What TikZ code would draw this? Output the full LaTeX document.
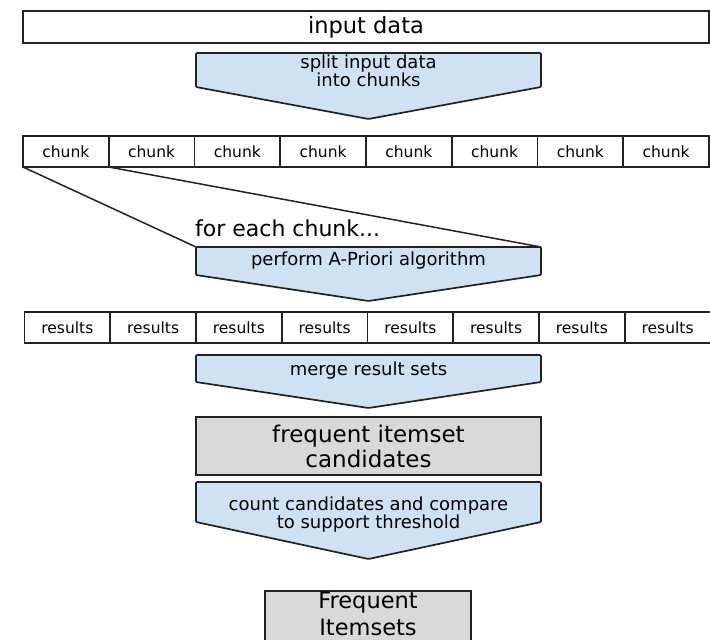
\documentclass[tikz,border=0pt]{standalone}
\usepackage{fontspec}
\setmainfont{DejaVu Sans}
\definecolor{stageblue}{HTML}{CFE2F3}
\definecolor{setgray}{HTML}{D9D9D9}
\definecolor{edge}{HTML}{222222}

% A down-pointing stage arrow between x=196 and x=541:
% #1 name, #2 top y, #3 y where the sides end, #4 tip y, #5 label y, #6 label
\newcommand\stagearrow[6]{%
  \draw[stage] (196,#2) -- (541,#2) -- (541,#3) -- (368.5,#4) -- (196,#3) -- cycle;
  \coordinate (#1-nw) at (196,#2);
  \coordinate (#1-ne) at (541,#2);
  \node[stagetext] (#1) at (368.5,#5) {#6};
}

\begin{document}
\begin{tikzpicture}[x=1pt,y=-1pt,
  stage/.style={draw=edge, line width=1.7pt, fill=stageblue, line join=round, rounded corners=1pt},
  stagetext/.style={align=center, inner sep=0pt, font=\fontsize{18}{18}\selectfont},
  box/.style={draw=edge, line width=1.7pt, inner sep=0pt, outer sep=0pt, anchor=north west},
  cell/.style={box, fill=white, minimum width=85.75pt, minimum height=31pt, font=\fontsize{15.5}{16}\selectfont},
  setbox/.style={box, fill=setgray},
  plain/.style={inner sep=0pt, align=center}]
\useasboundingbox (0,0) rectangle (710,640);

% input
\node[box, fill=white, minimum width=686pt, minimum height=32pt,
      font=\fontsize{22.5}{24}\selectfont] (input) at (23,11) {input data};

\stagearrow{split}{53}{87}{119}{71}{split input data\\into chunks}

% chunks
\foreach \i in {1,...,8}
  \node[cell] (chunk\i) at ({23+(\i-1)*85.75},136) {chunk};

% fan-out of one chunk to the per-chunk step
\coordinate (fanL) at (196,247);
\coordinate (fanR) at (541,247);
\draw[edge, line width=1.5pt] (chunk1.south west) -- (fanL);
\draw[edge, line width=1.5pt] (chunk1.south east) -- (fanR);

\node[plain, anchor=base west, font=\fontsize{22}{24}\selectfont] (foreach) at (195,236) {for each chunk...};

\stagearrow{perform}{247}{275}{301}{261}{perform A-Priori algorithm}

% results
\foreach \i in {1,...,8}
  \node[cell] (result\i) at ({24.5+(\i-1)*85.75},312) {results};

\stagearrow{merge}{355}{382}{408}{371}{merge result sets}

\node[setbox, minimum width=345pt, minimum height=58pt,
      font=\fontsize{23}{25}\selectfont, align=center] (cand) at (196,417)
      {frequent itemset\\candidates};

\stagearrow{count}{482}{522}{559}{515}{count candidates and compare\\to support threshold}

\node[setbox, minimum width=206pt, minimum height=75pt] (freq) at (265,591) {};
\node[plain, font=\fontsize{22.5}{27}\selectfont] (freqtext) at (368,614) {Frequent\\Itemsets};
\end{tikzpicture}
\end{document}
